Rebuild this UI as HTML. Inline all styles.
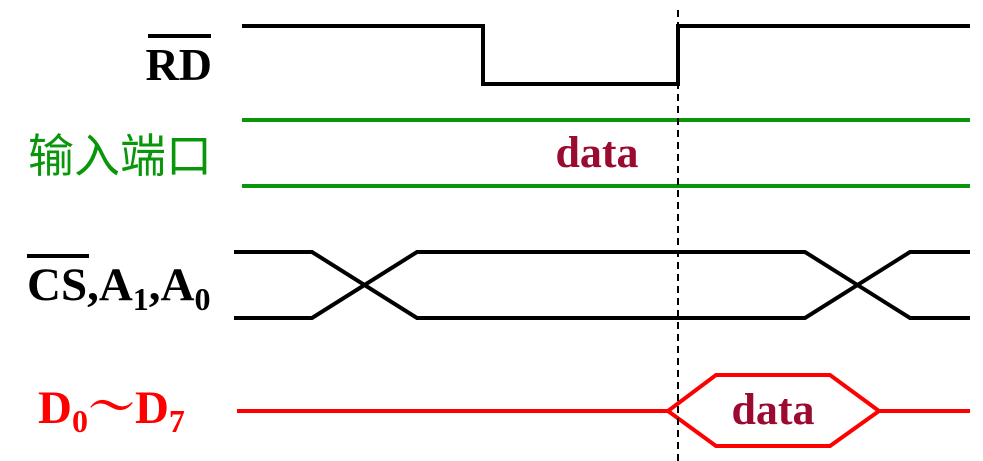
<!DOCTYPE html>
<html><head><meta charset="utf-8"><style>
html,body{margin:0;padding:0;background:#fff;}
svg{display:block;}
text{font-family:"Liberation Serif","Noto Serif CJK SC",serif;font-weight:bold;}
</style></head><body>
<svg id="chart" width="983" height="461" viewBox="0 0 983 461" xmlns="http://www.w3.org/2000/svg">
  <text x="212" y="80" font-size="46" text-anchor="end" fill="#000">RD</text>
  <line x1="148" y1="36" x2="211" y2="36" stroke="#000" stroke-width="4"/>
  <text x="28" y="172" font-size="46" fill="#0a960a" style="font-family:'Noto Sans CJK SC',sans-serif;font-weight:normal">输入端口</text>
  <text x="27" y="300" font-size="47" fill="#000">CS,A<tspan font-size="32" dy="10">1</tspan><tspan dy="-10">,A</tspan><tspan font-size="32" dy="10">0</tspan></text>
  <line x1="27" y1="256" x2="89" y2="256" stroke="#000" stroke-width="4"/>
  <text x="38" y="423" font-size="47" fill="#f00">D<tspan font-size="32" dy="9">0</tspan><tspan dy="-9">～D</tspan><tspan font-size="32" dy="9">7</tspan></text>
  <g id="signals"></g>
</svg>
<script>
// signal timing data (x positions along time axis)
const rdEdges = [242, 483, 678, 970];      // start, fall, rise, end
const rdLevels = [26, 84];                 // high y, low y
const portRange = [242, 970];
const portLevels = [120, 186];
const busCross1 = [234, 312, 417];
const busCross2 = [805, 910, 970];
const busLevels = [252, 318];
const dataBus = [237, 668, 716, 830, 879, 970];
const dataLevels = [375, 411, 446];
const markerX = 678;

const NS = 'http://www.w3.org/2000/svg';
const grp = document.getElementById('signals');
function mk(tag, attrs){const e=document.createElementNS(NS,tag);for(const k in attrs)e.setAttribute(k,attrs[k]);grp.appendChild(e);return e;}

const rdLine = mk('polyline',{points:`${rdEdges[0]},${rdLevels[0]} ${rdEdges[1]},${rdLevels[0]} ${rdEdges[1]},${rdLevels[1]} ${rdEdges[2]},${rdLevels[1]} ${rdEdges[2]},${rdLevels[0]} ${rdEdges[3]},${rdLevels[0]}`,fill:'none',stroke:'#000','stroke-width':4});



portLevels.forEach((y,i)=>{
  const l = mk('line',{x1:portRange[0],y1:y,x2:portRange[1],y2:y,stroke:'#0a960a','stroke-width':4});
  
  
});
const t1 = mk('text',{x:597,y:167,'font-size':44,'text-anchor':'middle',fill:'#9b0a2f'});
t1.textContent='data';



const bHi=busLevels[0], bLo=busLevels[1];
const ca=busCross1, cb=busCross2;
const b1 = mk('polyline',{points:`${ca[0]},${bHi} ${ca[1]},${bHi} ${ca[2]},${bLo} ${cb[0]},${bLo} ${cb[1]},${bHi} ${cb[2]},${bHi}`,fill:'none',stroke:'#000','stroke-width':4});


const b2 = mk('polyline',{points:`${ca[0]},${bLo} ${ca[1]},${bLo} ${ca[2]},${bHi} ${cb[0]},${bHi} ${cb[1]},${bLo} ${cb[2]},${bLo}`,fill:'none',stroke:'#000','stroke-width':4});



const db=dataBus, dTop=dataLevels[0], dMid=dataLevels[1], dBot=dataLevels[2];
const dl = mk('polyline',{points:`${db[0]},${dMid} ${db[1]},${dMid} ${db[2]},${dTop} ${db[3]},${dTop} ${db[4]},${dMid} ${db[5]},${dMid}`,fill:'none',stroke:'#f00','stroke-width':4});


const dl2 = mk('polyline',{points:`${db[1]},${dMid} ${db[2]},${dBot} ${db[3]},${dBot} ${db[4]},${dMid}`,fill:'none',stroke:'#f00','stroke-width':4});


const t2 = mk('text',{x:(db[2]+db[3])/2,y:dMid+13,'font-size':44,'text-anchor':'middle',fill:'#9b0a2f'});
t2.textContent='data';



const dash = mk('line',{x1:markerX,y1:10,x2:markerX,y2:461,stroke:'#000','stroke-width':2,'stroke-dasharray':'7 5'});


</script>
</body></html>
